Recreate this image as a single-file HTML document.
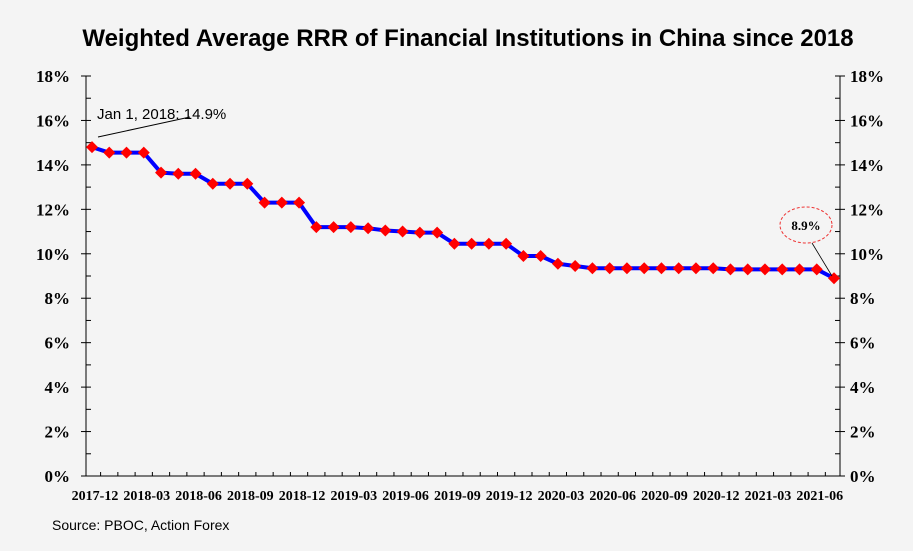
<!DOCTYPE html>
<html><head><meta charset="utf-8"><style>
body{margin:0;background:#f4f4f4;}
svg{display:block;}
.tk{font-family:"Liberation Serif",serif;font-weight:bold;font-size:17px;fill:#000;}
.xl{font-family:"Liberation Serif",serif;font-weight:bold;font-size:14px;fill:#000;}
</style></head><body>
<svg id="c" width="913" height="551" xmlns="http://www.w3.org/2000/svg">
<rect width="913" height="551" fill="#f4f4f4"/>
<text x="468" y="46" text-anchor="middle" font-family="Liberation Sans,sans-serif" font-weight="bold" font-size="24">Weighted Average RRR of Financial Institutions in China since 2018</text>
<text x="52" y="530" font-family="Liberation Sans,sans-serif" font-size="14">Source: PBOC, Action Forex</text>
<g id="axes"></g>
<g id="marks"></g>
<line x1="98" y1="137" x2="190" y2="117" stroke="#000" stroke-width="1"/>
<text x="97" y="119" font-family="Liberation Sans,sans-serif" font-size="15">Jan 1, 2018: 14.9%</text>
<ellipse cx="806" cy="225" rx="26" ry="18" fill="none" stroke="#e33" stroke-dasharray="3,2"/>
<text x="806" y="230" text-anchor="middle" font-family="Liberation Serif,serif" font-weight="bold" font-size="13">8.9%</text>
<line x1="812" y1="243" x2="832" y2="276" stroke="#000" stroke-width="0.8"/>
</svg>
<script>
const months=["2017-12","2018-01","2018-02","2018-03","2018-04","2018-05","2018-06","2018-07","2018-08","2018-09","2018-10","2018-11","2018-12","2019-01","2019-02","2019-03","2019-04","2019-05","2019-06","2019-07","2019-08","2019-09","2019-10","2019-11","2019-12","2020-01","2020-02","2020-03","2020-04","2020-05","2020-06","2020-07","2020-08","2020-09","2020-10","2020-11","2020-12","2021-01","2021-02","2021-03","2021-04","2021-05","2021-06","2021-07"];
const rrr=[14.8,14.55,14.55,14.55,13.65,13.6,13.6,13.15,13.15,13.15,12.3,12.3,12.3,11.2,11.2,11.2,11.15,11.05,11.0,10.95,10.95,10.45,10.45,10.45,10.45,9.9,9.9,9.55,9.45,9.35,9.35,9.35,9.35,9.35,9.35,9.35,9.35,9.3,9.3,9.3,9.3,9.3,9.3,8.9];
const yTicks=[0,2,4,6,8,10,12,14,16,18];
const xLabels=["2017-12","2018-03","2018-06","2018-09","2018-12","2019-03","2019-06","2019-09","2019-12","2020-03","2020-06","2020-09","2020-12","2021-03","2021-06"];
const L=86,R=840,T=76,B=476,x0=92,x1=834;
const xS=i=>x0+i*(x1-x0)/(months.length-1);
const yS=v=>B-(v/18)*(B-T);
const NS="http://www.w3.org/2000/svg";
function mk(t,a,p){const e=document.createElementNS(NS,t);for(const k in a)e.setAttribute(k,a[k]);p.appendChild(e);return e;}
const ax=document.getElementById('axes'),mg=document.getElementById('marks');
const la=mk('line',{x1:L,y1:T,x2:L,y2:B,stroke:'#000'},ax);


const ra=mk('line',{x1:R,y1:T,x2:R,y2:B,stroke:'#000'},ax);


const xa=mk('line',{x1:L,y1:B,x2:R,y2:B,stroke:'#000'},ax);


for(let v=0;v<=18;v++){
  const y=yS(v);
  mk('line',{x1:L,y1:y,x2:L+5,y2:y,stroke:'#000'},ax);
  mk('line',{x1:R-5,y1:y,x2:R,y2:y,stroke:'#000'},ax);
}
yTicks.forEach(v=>{
  const y=yS(v);
  mk('line',{x1:L-5,y1:y,x2:L,y2:y,stroke:'#000'},ax);
  mk('line',{x1:R,y1:y,x2:R+5,y2:y,stroke:'#000'},ax);
  const t=mk('text',{x:70,y:y+6,'text-anchor':'end',class:'tk'},ax);t.textContent=v+'%';
  
  
  const t2=mk('text',{x:850,y:y+6,class:'tk'},ax);t2.textContent=v+'%';
  
  
});
months.forEach((m,i)=>{const x=xS(i)+8.6;if(x<R)mk('line',{x1:x,y1:B,x2:x,y2:B-4,stroke:'#000'},ax);});
xLabels.forEach(lb=>{
  const i=months.indexOf(lb);
  const t=mk('text',{x:xS(i)+3,y:B+24,'text-anchor':'middle',class:'xl'},ax);t.textContent=lb;
  
  
});
const pl=mk('polyline',{points:rrr.map((v,i)=>xS(i)+','+yS(v)).join(' '),fill:'none',stroke:'#0000ff','stroke-width':4,'stroke-linejoin':'round'},mg);


rrr.forEach((v,i)=>{
  const x=xS(i),y=yS(v),s=6;
  const p=mk('polygon',{points:`${x},${y-s} ${x+s},${y} ${x},${y+s} ${x-s},${y}`,fill:'#ff0000'},mg);
  
  
});
</script>
</body></html>
